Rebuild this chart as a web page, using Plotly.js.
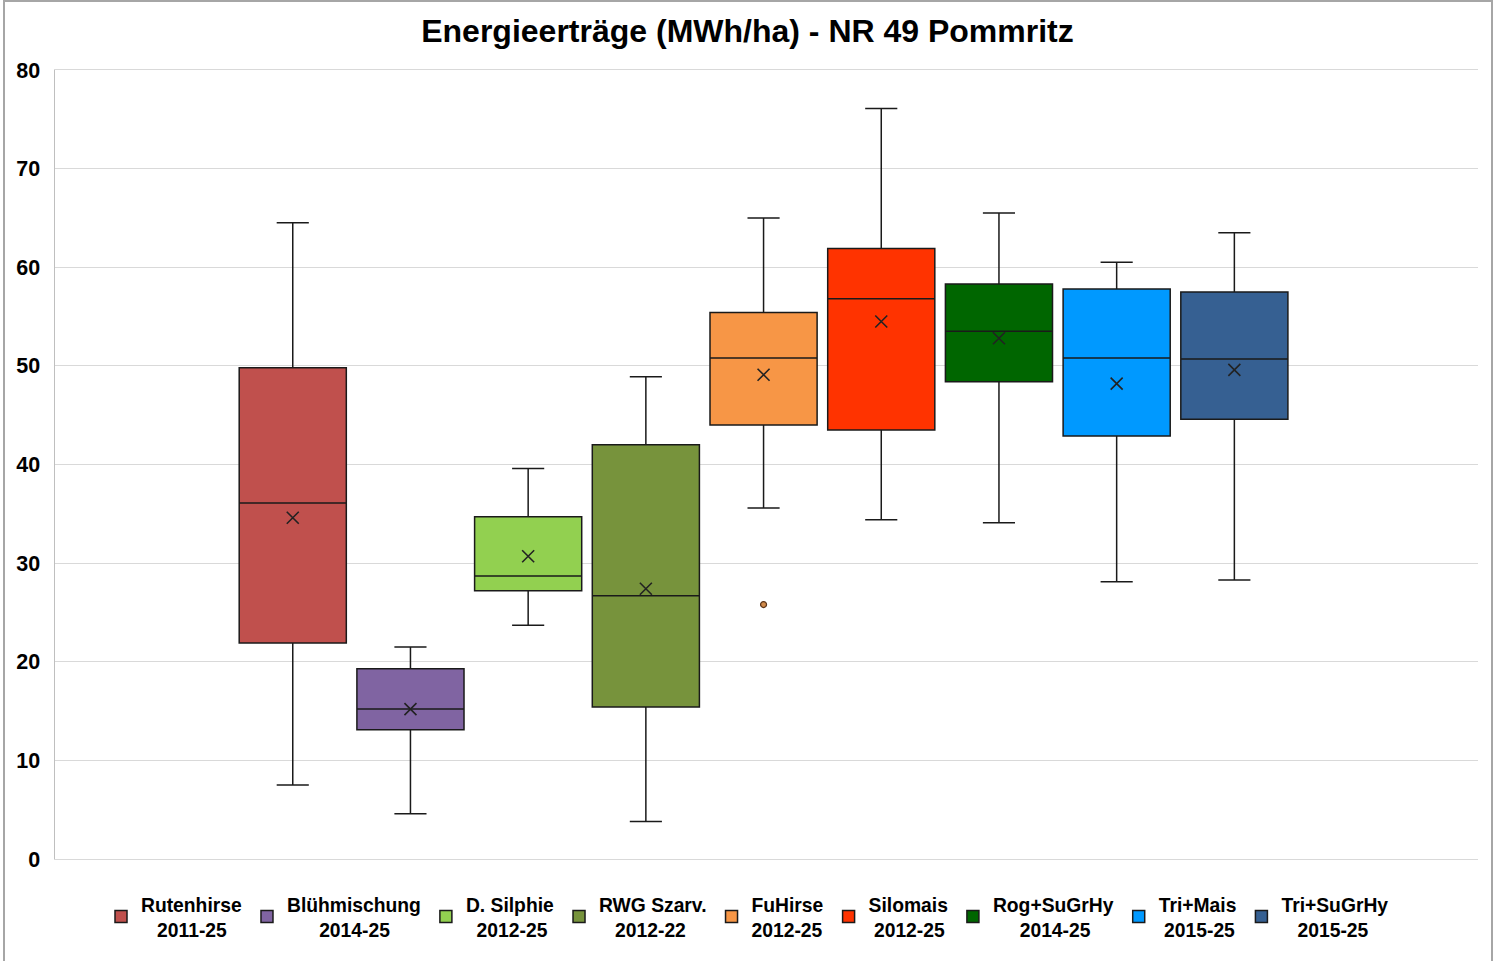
<!DOCTYPE html>
<html>
<head>
<meta charset="utf-8">
<script src="https://cdn.plot.ly/plotly-3.0.1.min.js"></script>
<style>
  html, body { margin: 0; padding: 0; background: #ffffff; }
  #chart { width: 1495px; height: 961px; }
</style>
</head>
<body>
<div id="chart"></div>
<script>
// ---- Data ----
const seriesNames = ["Rutenhirse", "Blühmischung", "D. Silphie", "RWG Szarv.", "FuHirse", "Silomais", "Rog+SuGrHy", "Tri+Mais", "Tri+SuGrHy"];
const seriesPeriods = ["2011-25", "2014-25", "2012-25", "2012-22", "2012-25", "2012-25", "2014-25", "2015-25", "2015-25"];
const lowerWhisker = [7.5, 4.6, 23.7, 3.8, 35.6, 34.4, 34.1, 28.1, 28.3];
const q1Values     = [21.9, 13.1, 27.2, 15.4, 44.0, 43.5, 48.4, 42.9, 44.6];
const medianValues = [36.1, 15.2, 28.7, 26.7, 50.8, 56.8, 53.5, 50.8, 50.7];
const q3Values     = [49.8, 19.3, 34.7, 42.0, 55.4, 61.9, 58.3, 57.8, 57.5];
const upperWhisker = [64.5, 21.5, 39.6, 48.9, 65.0, 76.1, 65.5, 60.5, 63.5];
const meanValues   = [34.6, 15.2, 30.7, 27.4, 49.1, 54.5, 52.8, 48.2, 49.6];
const outlierSeries = [4];       // index of FuHirse
const outlierValues = [25.8];
const yTickValues = [0, 10, 20, 30, 40, 50, 60, 70, 80];

// ---- Styles ----
const colors = ["#c0504d", "#8064a2", "#92d050", "#77933c", "#f79646", "#ff3300", "#006600", "#0099ff", "#366092"];
const FONT = "'Liberation Sans', Arial, sans-serif";
const LEGEND_SIZE = 19.3;

// Centre the second legend line under the first using non-breaking spaces
const ctx = document.createElement("canvas").getContext("2d");
ctx.font = "bold " + LEGEND_SIZE + "px 'Liberation Sans'";
const spaceW = ctx.measureText("\u00a0").width || LEGEND_SIZE * 0.278;
function legendLabel(name, period) {
  const w1 = ctx.measureText(name).width;
  const w2 = ctx.measureText(period).width;
  const n = Math.max(0, Math.round((w1 - w2) / 2 / spaceW));
  return name + "<br>" + "\u00a0".repeat(n) + period;
}

const traces = [];
seriesNames.forEach((name, i) => {
  traces.push({
    type: "box",
    name: legendLabel(name, seriesPeriods[i]),
    x: [i],
    q1: [q1Values[i]],
    median: [medianValues[i]],
    q3: [q3Values[i]],
    lowerfence: [lowerWhisker[i]],
    upperfence: [upperWhisker[i]],
    width: 0.91,
    whiskerwidth: 0.3,
    boxpoints: false,
    fillcolor: colors[i],
    line: { color: "#1a1a1a", width: 1.5 },
    hoverinfo: "y"
  });
});

// Mean markers (x)
traces.push({
  type: "scatter",
  mode: "markers",
  x: seriesNames.map((_, i) => i),
  y: meanValues,
  marker: { symbol: "x-thin-open", size: 12, color: "#222222", line: { color: "#222222", width: 1.6 } },
  showlegend: false,
  hoverinfo: "y"
});

// Outlier point
traces.push({
  type: "scatter",
  mode: "markers",
  x: outlierSeries,
  y: outlierValues,
  marker: { symbol: "circle", size: 6, color: "#d08a4a", line: { color: "#5a3418", width: 1.2 } },
  showlegend: false,
  hoverinfo: "y"
});

const layout = {
  width: 1495,
  height: 961,
  paper_bgcolor: "#ffffff",
  plot_bgcolor: "#ffffff",
  margin: { l: 55, r: 17, t: 70, b: 102 },
  font: { family: FONT, color: "#000000" },
  title: {
    text: "Energieerträge (MWh/ha) - NR 49 Pommritz",
    font: { family: FONT, size: 32, weight: "bold", color: "#000000" },
    x: 0.5, xref: "container", xanchor: "center",
    y: 1 - 31 / 961, yref: "container", yanchor: "middle"
  },
  xaxis: {
    range: [-2.02, 10.07],
    showgrid: false, zeroline: false, showticklabels: false, ticks: "",
    showline: true, mirror: true, linecolor: "#d9d9d9", linewidth: 1.2
  },
  yaxis: {
    range: [0, 80],
    tickvals: yTickValues,
    ticktext: yTickValues.map(String),
    tickfont: { family: FONT, size: 21.5, weight: "bold", color: "#000000" },
    showgrid: true, gridcolor: "#d9d9d9", gridwidth: 1.2,
    zeroline: false,
    showline: true, linecolor: "#bfbfbf", linewidth: 1.5,
    ticks: "", ticklabelstandoff: 9
  },
  showlegend: true,
  legend: {
    orientation: "h",
    x: 0.5, xref: "container", xanchor: "center",
    y: 1 - 885 / 961, yref: "container", yanchor: "top",
    font: { family: FONT, size: LEGEND_SIZE, weight: "bold", color: "#000000" },
    itemclick: false, itemdoubleclick: false,
    tracegroupgap: 0,
    itemwidth: 30
  },
  shapes: [{
    type: "rect", xref: "paper", yref: "paper",
    x0: (4 - 55) / 1423, x1: (1492 - 55) / 1423,
    y0: (859 - 970) / 789, y1: (859 - 1) / 789,
    line: { color: "#a6a6a6", width: 2 },
    fillcolor: "rgba(0,0,0,0)",
    layer: "below"
  }]
};

Plotly.newPlot("chart", traces, layout, { displayModeBar: false, staticPlot: true });
</script>
</body>
</html>
